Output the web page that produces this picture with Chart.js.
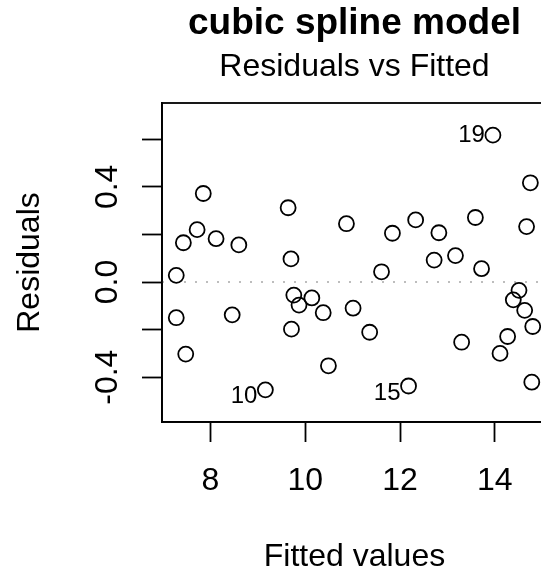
<!DOCTYPE html>
<html>
<head>
<meta charset="utf-8">
<title>cubic spline model</title>
<script src="https://cdn.jsdelivr.net/npm/chart.js@4/dist/chart.umd.min.js"></script>
<style>
    html, body { margin: 0; padding: 0; background: #fff; overflow: hidden; }
    #wrap { width: 541px; height: 571px; overflow: hidden; }
</style>
</head>
<body>
<div id="wrap"><canvas id="residPlot" width="547" height="571"></canvas></div>
<script>
// fitted values and residuals, one entry per observation (obs number = index + 1)
let fitted = [7.85, 9.64, 10.87, 7.72, 7.43, 8.12, 8.60, 9.70, 7.28, 9.16,
              9.76, 9.87, 10.14, 10.38, 12.18, 11.01, 7.28, 8.46, 13.96, 9.71,
              7.48, 10.49, 14.75, 13.59, 12.33, 14.67, 11.84, 12.82, 12.72, 13.17,
              13.72, 11.61, 14.51, 14.39, 14.63, 14.80, 11.36, 14.27, 13.30, 14.11,
              14.78];
let resid = [0.372, 0.312, 0.245, 0.220, 0.165, 0.182, 0.156, 0.097, 0.028, -0.453,
             -0.055, -0.097, -0.067, -0.129, -0.437, -0.110, -0.150, -0.138, 0.617, -0.198,
             -0.303, -0.352, 0.417, 0.271, 0.261, 0.233, 0.205, 0.207, 0.092, 0.111,
             0.056, 0.043, -0.035, -0.075, -0.119, -0.187, -0.211, -0.229, -0.253, -0.300,
             -0.421];
// the three largest residuals get their observation number printed
let shownIds = [19, 10, 15];

let xTicks = [8, 10, 12, 14];
let yTicks = [-0.4, -0.2, 0, 0.2, 0.4, 0.6];
let yTickLabels = ['-0.4', '', '0.0', '', '0.4', ''];

let mainTitle = 'cubic spline model';
let caption = 'Residuals vs Fitted';

const FONT = '"Liberation Sans", Arial, Helvetica, sans-serif';

// axis limits the way plot.lm does it: residual range widened 8% for the
// id labels, then the usual 4% on both axes
function extendRange(lo, hi, f) {
    let d = (hi - lo) * f;
    return [lo - d, hi + d];
}
let xlim = extendRange(Math.min(...fitted), Math.max(...fitted), 0.04);
let ylim = extendRange(...extendRange(Math.min(...resid), Math.max(...resid), 0.08), 0.04);

let points = fitted.map((f, i) => ({ x: f, y: resid[i] }));

// box, dotted zero line, titles, rotated y labels and id labels
const decorations = {
    id: 'decorations',
    beforeDatasetsDraw(chart) {
        const { ctx, chartArea: a, scales } = chart;
        let y0 = scales.y.getPixelForValue(0);
        ctx.save();
        ctx.strokeStyle = '#bdbdbd';
        ctx.lineWidth = 2;
        ctx.setLineDash([2, 9]);
        ctx.beginPath();
        ctx.moveTo(a.left, y0);
        ctx.lineTo(a.right, y0);
        ctx.stroke();
        ctx.restore();
    },
    afterDatasetsDraw(chart) {
        const { ctx, chartArea: a, scales } = chart;
        ctx.save();
        ctx.strokeStyle = '#000';
        ctx.lineWidth = 1.8;
        ctx.strokeRect(a.left, a.top, a.right - a.left, a.bottom - a.top);

        ctx.fillStyle = '#000';
        let cx = (a.left + a.right) / 2;
        ctx.textAlign = 'center';
        ctx.textBaseline = 'alphabetic';
        ctx.font = 'bold 37px ' + FONT;
        ctx.fillText(mainTitle, cx, 34);
        ctx.font = '32px ' + FONT;
        ctx.fillText(caption, cx, 76);

        // y tick labels, read bottom to top like R's las = 0
        yTicks.forEach((v, i) => {
            if (!yTickLabels[i]) return;
            ctx.save();
            ctx.translate(117, scales.y.getPixelForValue(v));
            ctx.rotate(-Math.PI / 2);
            ctx.fillText(yTickLabels[i], 0, 0);
            ctx.restore();
        });

        // observation numbers to the left of the flagged points
        let meta = chart.getDatasetMeta(0);
        ctx.font = '24px ' + FONT;
        ctx.textAlign = 'right';
        ctx.textBaseline = 'middle';
        shownIds.forEach(id => {
            let pt = meta.data[id - 1];
            let dy = resid[id - 1] < 0 ? 7 : 0;
            ctx.fillText(String(id), pt.x - 8, pt.y + dy);
        });
        ctx.restore();
    }
};

let chart = new Chart(document.getElementById('residPlot'), {
    type: 'scatter',
    data: {
        datasets: [{
            data: points,
            pointStyle: 'circle',
            pointRadius: 7.5,
            pointBorderWidth: 1.8,
            borderColor: '#000',
            backgroundColor: 'rgba(0,0,0,0)',
            pointBackgroundColor: 'rgba(0,0,0,0)'
        }]
    },
    options: {
        responsive: false,
        animation: false,
        events: [],
        layout: { autoPadding: false, padding: { top: 103, left: 0, right: 0, bottom: 0 } },
        plugins: { legend: { display: false }, tooltip: { enabled: false } },
        scales: {
            x: {
                type: 'linear',
                min: xlim[0],
                max: xlim[1],
                afterBuildTicks: s => { s.ticks = xTicks.map(v => ({ value: v })); },
                afterFit: s => { s.height = 149; },
                grid: { drawOnChartArea: false, drawTicks: true, tickLength: 20, tickWidth: 1.8, tickColor: '#000' },
                border: { display: true, color: '#000', width: 1.8 },
                ticks: { color: '#000', padding: 20, font: { family: FONT, size: 32 }, maxRotation: 0 },
                title: {
                    display: true,
                    text: 'Fitted values',
                    color: '#000',
                    padding: 0,
                    font: { family: FONT, size: 32, lineHeight: 0.875 }
                }
            },
            y: {
                type: 'linear',
                min: ylim[0],
                max: ylim[1],
                afterBuildTicks: s => { s.ticks = yTicks.map(v => ({ value: v })); },
                afterFit: s => { s.width = 162; },
                grid: { drawOnChartArea: false, drawTicks: true, tickLength: 20, tickWidth: 1.8, tickColor: '#000' },
                border: { display: true, color: '#000', width: 1.8 },
                ticks: { display: false },
                title: {
                    display: true,
                    text: 'Residuals',
                    color: '#000',
                    padding: { top: 11, bottom: 0 },
                    font: { family: FONT, size: 32 }
                }
            }
        }
    },
    plugins: [decorations]
});
</script>
</body>
</html>
